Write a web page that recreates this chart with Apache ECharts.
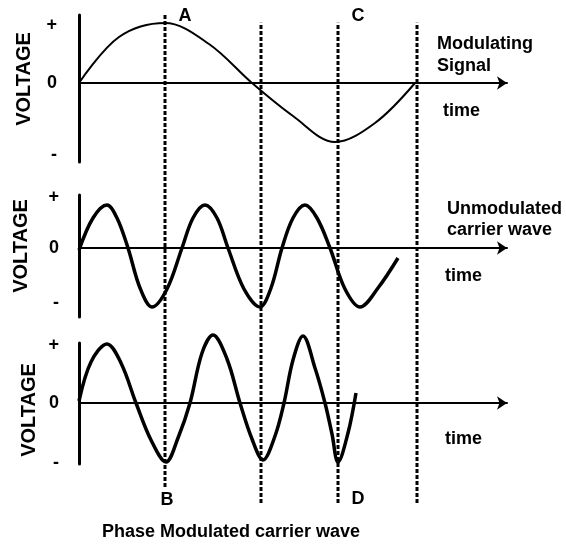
<!DOCTYPE html>
<html>
<head>
<meta charset="utf-8">
<script src="https://cdn.jsdelivr.net/npm/echarts@6.0.0/dist/echarts.min.js"></script>
<style>
body { margin: 0; background: #fff; }
#phaseChart { width: 566px; height: 545px; }
</style>
</head>
<body>
<div id="phaseChart"></div>
<script>
// time runs left to right, voltage in arbitrary units (0 = time axis)
// points read at zero crossings, peaks, troughs and half way between
var modTime = [0, 40, 86, 130, 173, 214, 256, 296, 336];
var modVolt = [0, 0.92, 1.2, 0.78, 0, -0.66, -1.18, -0.8, 0];

var carrierTime = [0, 14, 28, 38, 49, 61, 73, 88, 103, 114, 126, 138, 149, 165, 181, 192, 203, 214, 226, 238, 251, 266, 281, 299, 319];
var carrierVolt = [-0.04, 0.6, 0.86, 0.6, 0, -0.8, -1.18, -0.82, 0, 0.6, 0.86, 0.6, 0, -0.82, -1.18, -0.8, 0, 0.6, 0.86, 0.6, 0, -0.82, -1.18, -0.8, -0.2];

var pmTime = [0, 12, 28, 42, 57, 72, 87, 99, 111, 123, 134, 148, 161, 173, 184, 196, 205, 214, 224, 236, 246, 253, 259, 269, 277];
var pmVolt = [0.04, 0.82, 1.18, 0.8, 0, -0.74, -1.18, -0.7, 0, 1.0, 1.36, 0.88, 0, -0.72, -1.14, -0.66, 0, 0.86, 1.34, 0.7, 0, -0.62, -1.18, -0.6, 0.2];

// instants marked by the dashed lines
var markerTime = [86, 182, 259, 338];

// where the +, 0, - marks sit on each voltage axis
var tickPanel1 = [1.16, 0, -1.44];
var tickPanel2 = [1.02, 0, -1.1];
var tickPanel3 = [1.16, 0, -1.2];

var FONT = "Liberation Sans, Arial, sans-serif";

function pairs(xs, ys) {
    var out = [];
    for (var i = 0; i < xs.length; i++) {
        out.push([xs[i], ys[i]]);
    }
    return out;
}

function signLabel(v) {
    if (v > 0) return "+";
    if (v < 0) return "-";
    return "0";
}

function makeXAxis(idx, show) {
    return {
        type: "value",
        gridIndex: idx,
        min: 0,
        max: 428,
        show: show,
        axisLine: {
            show: true,
            onZero: true,
            symbol: ["none", "arrow"],
            symbolSize: [10, 10],
            lineStyle: { color: "#000", width: 2 }
        },
        axisTick: { show: false },
        axisLabel: { show: false },
        splitLine: { show: false }
    };
}

function makeYAxis(idx, min, max, ticks, margin) {
    return {
        type: "value",
        gridIndex: idx,
        min: min,
        max: max,
        axisLine: { show: true, onZero: false, lineStyle: { color: "#000", width: 3 } },
        axisTick: { show: false },
        splitLine: { show: false },
        axisLabel: {
            customValues: ticks,
            formatter: signLabel,
            margin: margin,
            color: "#000",
            fontFamily: FONT,
            fontWeight: "bold",
            fontSize: 18
        }
    };
}

function wave(idx, xs, ys, width) {
    return {
        type: "line",
        xAxisIndex: idx,
        yAxisIndex: idx,
        data: pairs(xs, ys),
        smooth: 0.35,
        symbol: "none",
        clip: false,
        silent: true,
        lineStyle: { color: "#000", width: width }
    };
}

var series = [
    wave(0, modTime, modVolt, 2),
    wave(1, carrierTime, carrierVolt, 3.5),
    wave(2, pmTime, pmVolt, 3.5)
];

// dashed verticals over the whole figure
for (var m = 0; m < markerTime.length; m++) {
    var lineTop = m === 0 ? 1 : 0.984;
    var lineBottom = m === 0 ? 0.033 : 0;
    series.push({
        type: "line",
        xAxisIndex: 3,
        yAxisIndex: 3,
        data: [[markerTime[m], lineBottom], [markerTime[m], lineTop]],
        symbol: "none",
        silent: true,
        clip: false,
        lineStyle: { color: "#000", width: 3, type: [4, 2] }
    });
}

function txt(text, x, y, opts) {
    opts = opts || {};
    return {
        type: "text",
        x: x,
        y: y,
        rotation: opts.rotation || 0,
        silent: true,
        style: {
            text: text,
            fill: "#000",
            font: "bold " + (opts.size || 18) + "px " + FONT,
            textAlign: opts.align || "left",
            textVerticalAlign: "middle"
        }
    };
}

var option = {
    animation: false,
    backgroundColor: "#fff",
    grid: [
        { left: 79, width: 428, top: 15, height: 147 },
        { left: 79, width: 428, top: 195, height: 122 },
        { left: 79, width: 428, top: 343, height: 121 },
        { left: 79, width: 428, top: 15, height: 488 }
    ],
    xAxis: [
        makeXAxis(0, true),
        makeXAxis(1, true),
        makeXAxis(2, true),
        makeXAxis(3, false)
    ],
    yAxis: [
        makeYAxis(0, -1.58, 1.36, tickPanel1, 22),
        makeYAxis(1, -1.38, 1.06, tickPanel2, 20),
        makeYAxis(2, -1.22, 1.2, tickPanel3, 20),
        { type: "value", gridIndex: 3, min: 0, max: 1, show: false }
    ],
    series: series,
    graphic: [
        txt("VOLTAGE", 24, 79, { rotation: Math.PI / 2, align: "center", size: 20 }),
        txt("VOLTAGE", 21, 246, { rotation: Math.PI / 2, align: "center", size: 20 }),
        txt("VOLTAGE", 29, 410, { rotation: Math.PI / 2, align: "center", size: 20 }),
        txt("Modulating", 437, 44),
        txt("Signal", 437, 66),
        txt("time", 443, 111),
        txt("Unmodulated", 447, 209),
        txt("carrier wave", 447, 230),
        txt("time", 445, 276),
        txt("time", 445, 439),
        txt("A", 185, 16, { align: "center" }),
        txt("C", 358, 16, { align: "center" }),
        txt("B", 167, 500, { align: "center" }),
        txt("D", 358, 499, { align: "center" }),
        txt("Phase Modulated carrier wave", 102, 532)
    ]
};

var myChart = echarts.init(document.getElementById("phaseChart"));
myChart.setOption(option);
</script>
</body>
</html>
